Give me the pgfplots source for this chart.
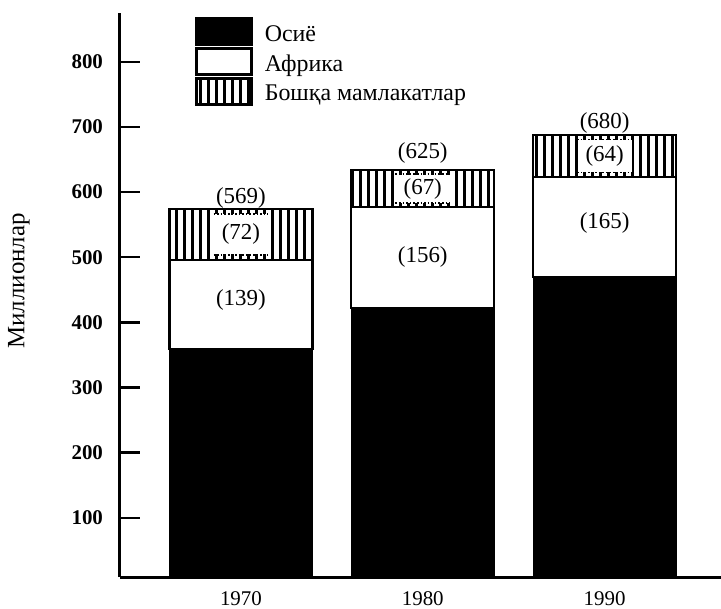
\documentclass[border=0pt]{standalone}
\usepackage{fontspec}
\setmainfont{Liberation Serif}
\usepackage{pgfplots}
\pgfplotsset{compat=1.18}
\usetikzlibrary{patterns.meta}
\tikzset{lbl/.style={font=\fontsize{11.5}{13}\selectfont},
  patch/.style={fill=white, inner sep=0pt, minimum width=27bp,
  font=\fontsize{11.5}{13}\selectfont,
  append after command={(\tikzlastnode.north west) edge[densely dotted, line width=0.8bp] (\tikzlastnode.north east)
  (\tikzlastnode.south west) edge[densely dotted, line width=0.8bp] (\tikzlastnode.south east)}}}
\begin{document}
\begin{tikzpicture}
\begin{axis}[
  scale only axis, width=300.5bp, height=282bp,
  xmin=-0.665, xmax=2.64, ymin=9, ymax=875,
  axis x line=bottom, axis y line=left,
  axis line style={-, line width=1.5bp},
  ybar stacked, bar width=71.5bp,
  xtick={0,1,2}, xticklabels={1970,1980,1990},
  xtick style={draw=none},
  ytick={100,200,...,800},
  ytick style={line width=1.2bp, black},
  tick align=inside, major tick length=10bp,
  /pgf/number format/assume math mode=true,
  yticklabel style={font=\fontsize{10.5}{12}\selectfont\bfseries, xshift=-5bp},
  xticklabel style={font=\fontsize{10.5}{12}\selectfont, yshift=-4bp},
  ylabel={Миллионлар},
  every axis y label/.style={at={(rel axis cs:0,0.525)}, xshift=-50.5bp, rotate=90, anchor=center, font=\fontsize{12.5}{14}\selectfont},
  legend style={at={(rel axis cs:0,1)}, anchor=north west, xshift=37.5bp, yshift=-2bp,
    draw=none, fill=none, inner sep=0pt, row sep=0.8bp, column sep=6bp,
    nodes={inner sep=0pt},
    font=\fontsize{12}{13}\selectfont, cells={anchor=west}},
  legend image code/.code={\draw[#1, line width=1.2bp] (0bp,-5bp) rectangle (27.5bp,8bp);},
]
\addplot[fill=black, draw=black] coordinates {(0,359) (1,422) (2,470)};
\addplot[fill=white, draw=black, line width=1.2bp] coordinates {(0,137) (1,155) (2,153)};
\addplot[draw=black, line width=1.2bp, pattern={Lines[angle=90,distance=4bp,line width=1.5bp]}, pattern color=black] coordinates {(0,78) (1,57) (2,65)};
\legend{Осиё, Африка, Бошқа мамлакатлар}
\coordinate (T0) at (axis cs:0,591);
\coordinate (T1) at (axis cs:1,660);
\coordinate (T2) at (axis cs:2,706);
\coordinate (O0) at (axis cs:0,535);
\coordinate (O1) at (axis cs:1,605.5);
\coordinate (O2) at (axis cs:2,655.5);
\coordinate (A0) at (axis cs:0,434);
\coordinate (A1) at (axis cs:1,500);
\coordinate (A2) at (axis cs:2,553);
\coordinate (SW) at (rel axis cs:0,0);
\coordinate (NE) at (rel axis cs:1,1);
\end{axis}
\node[lbl] at (T0) {(569)};
\node[lbl] at (T1) {(625)};
\node[lbl] at (T2) {(680)};
\node[patch, minimum height=20bp] at (O0) {(72)};
\node[patch, minimum height=14bp] at (O1) {(67)};
\node[patch, minimum height=16bp] at (O2) {(64)};
\node[lbl] at (A0) {(139)};
\node[lbl] at (A1) {(156)};
\node[lbl] at (A2) {(165)};
\pgfresetboundingbox
\path ([shift={(-60bp,-16bp)}]SW) rectangle ([shift={(0bp,6.5bp)}]NE);
\end{tikzpicture}
\end{document}
